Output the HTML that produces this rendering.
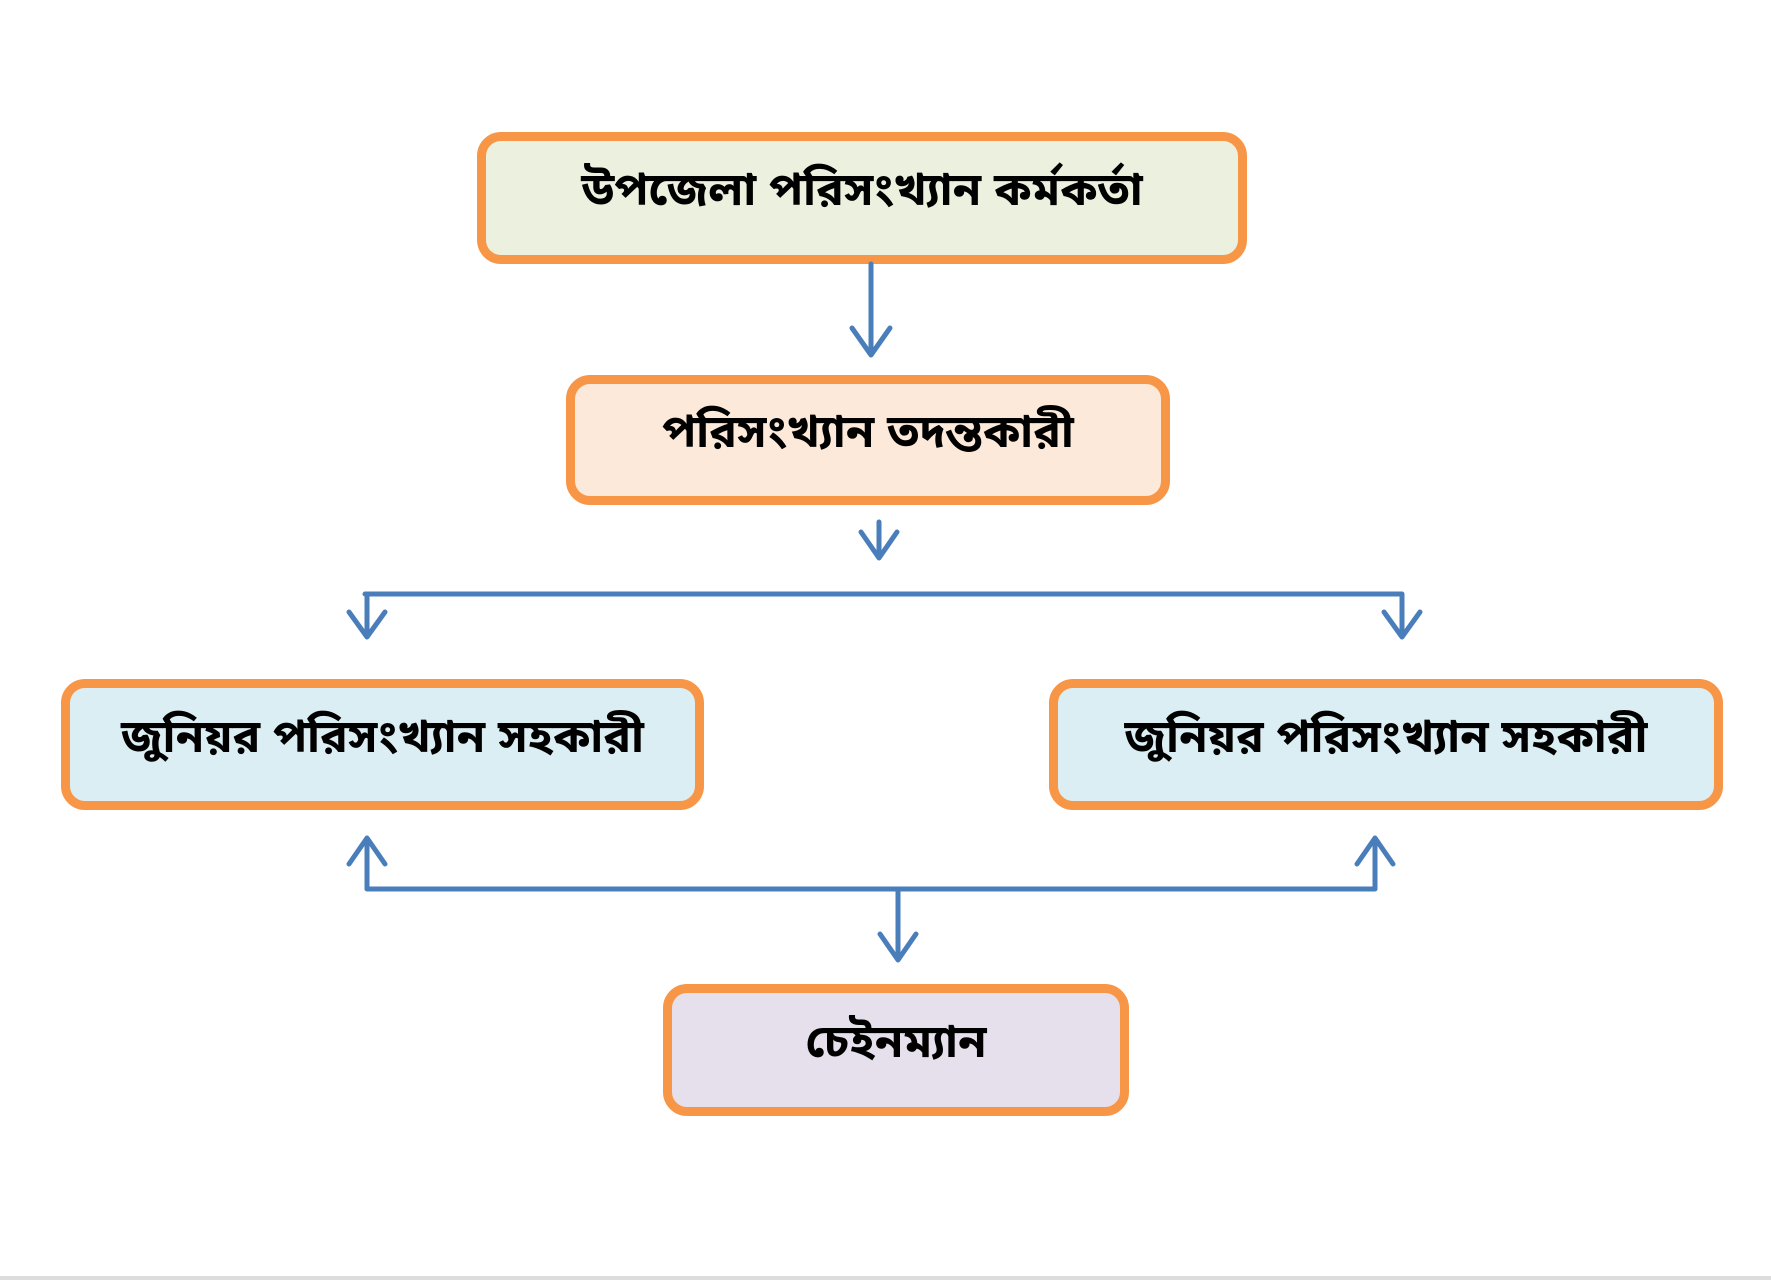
<!DOCTYPE html>
<html><head><meta charset="utf-8"><style>
body{margin:0;width:1771px;height:1280px;background:#fff;position:relative;overflow:hidden;font-family:"Liberation Sans","Noto Sans Bengali","Lohit Bengali",sans-serif}
.b{position:absolute;box-sizing:border-box;border:9px solid #f79646;border-radius:24px;display:flex;align-items:center;justify-content:center;font-size:46px;color:#000;font-weight:bold;padding-bottom:10px}
svg{position:absolute;left:0;top:0}
</style></head><body>
<div class="b" style="left:477px;top:132px;width:770px;height:132px;background:#ebf1de">উপজেলা পরিসংখ্যান কর্মকর্তা</div>
<div class="b" style="left:566px;top:375px;width:604px;height:130px;background:#fde9d9">পরিসংখ্যান তদন্তকারী</div>
<div class="b" style="left:61px;top:679px;width:643px;height:131px;background:#dbeef3">জুনিয়র পরিসংখ্যান সহকারী</div>
<div class="b" style="left:1049px;top:679px;width:674px;height:131px;background:#dbeef3">জুনিয়র পরিসংখ্যান সহকারী</div>
<div class="b" style="left:663px;top:984px;width:466px;height:132px;background:#e5e0ec">চেইনম্যান</div>
<svg width="1771" height="1280" fill="none" stroke="#4a7ebb" stroke-width="5" stroke-linecap="round" stroke-linejoin="round">
<path d="M871 264V354M852 328L871 355L890 328"/>
<path d="M879 522V558M861 532L879 558L897 532"/>
<path d="M365 594H1402M367 594V637M1402 594V637M349 612L367 637L385 612M1384 612L1402 637L1420 612"/>
<path d="M367 889H1375M367 889V838M1375 889V838M349 864L367 838L385 864M1357 864L1375 838L1393 864"/>
<path d="M898 889V960M880 934L898 960L916 934"/>
</svg>
<div style="position:absolute;left:0;top:1276px;width:1771px;height:4px;background:#ddd"></div>
</body></html>
